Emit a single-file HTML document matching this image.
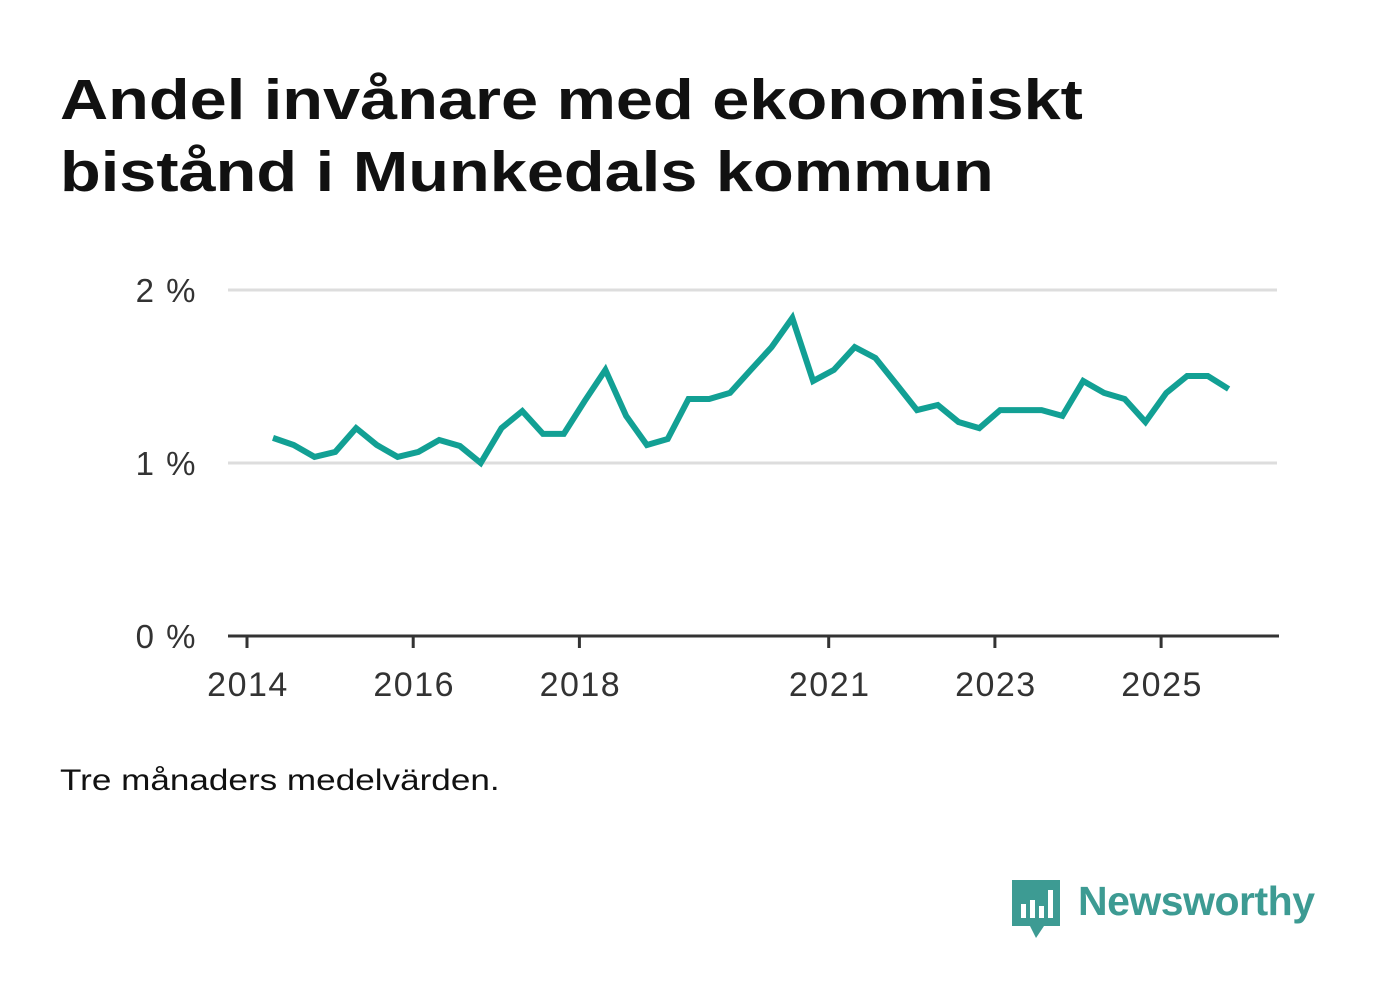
<!DOCTYPE html>
<html><head><meta charset="utf-8">
<style>
body{margin:0;background:#fff;width:1382px;height:999px;overflow:hidden;font-family:"Liberation Sans",sans-serif;}
h1{position:absolute;left:60px;top:64px;margin:0;font-size:57px;line-height:72px;font-weight:bold;color:#111;transform:scaleX(1.17);transform-origin:0 0;white-space:nowrap}
.note{position:absolute;left:60px;top:764px;font-size:30px;color:#111;transform:scaleX(1.17);transform-origin:0 0;white-space:nowrap}
</style></head><body>
<h1>Andel invånare med ekonomiskt<br>bistånd i Munkedals kommun</h1>
<svg id="chart" width="1382" height="999" style="position:absolute;left:0;top:0"></svg>
<div class="note">Tre månaders medelvärden.</div>
<div style="position:absolute;left:1012px;top:878px;height:60px">
<svg width="50" height="62" style="position:absolute;left:0;top:2px"><path d="M0 0H48V46H32L24 58L18 46H0Z" fill="#3d9b93"/><rect x="9" y="24" width="5" height="14" fill="#fff"/><rect x="18" y="20" width="5" height="18" fill="#fff"/><rect x="27" y="26" width="5" height="12" fill="#fff"/><rect x="36" y="10" width="5" height="28" fill="#fff"/></svg>
<span style="position:absolute;left:66px;top:0;font-size:41px;font-weight:bold;color:#3d9b93;white-space:nowrap;letter-spacing:-0.5px">Newsworthy</span></div>
<script>
const yTicks=[0,1,2];
const yTickLabels=["0 %","1 %","2 %"];
const xTicks=[2014,2016,2018,2021,2023,2025];
const startYear=2014.3125;
const values=[1.145,1.104,1.035,1.064,1.202,1.104,1.035,1.064,1.133,1.098,1.0,1.202,1.30,1.168,1.168,1.358,1.538,1.272,1.104,1.139,1.37,1.37,1.405,1.538,1.67,1.838,1.474,1.538,1.67,1.607,1.457,1.306,1.335,1.237,1.202,1.306,1.306,1.306,1.272,1.474,1.405,1.37,1.237,1.405,1.503,1.503,1.428];
const svg=document.getElementById('chart');
const NS='http://www.w3.org/2000/svg';
const x=t=>247+(t-2014)*83.1;
const y=v=>636-v*173;
function mk(tag,attrs){const e=document.createElementNS(NS,tag);for(const k in attrs)e.setAttribute(k,attrs[k]);svg.appendChild(e);return e;}
yTicks.forEach((v,i)=>{
  if(v>0){const g=mk('line',{x1:228,x2:1277,y1:y(v),y2:y(v),stroke:'#ddd','stroke-width':3});
  
  }
  const t=mk('text',{x:197,y:y(v)+12,'text-anchor':'end','font-size':33,'letter-spacing':1.5,fill:'#333','font-family':'Liberation Sans, sans-serif'});
  t.textContent=yTickLabels[i];
  
  
});
const ax=mk('line',{x1:228,x2:1279,y1:636,y2:636,stroke:'#333','stroke-width':3});


xTicks.forEach(t=>{
  const tk=mk('line',{x1:x(t),x2:x(t),y1:636,y2:648,stroke:'#333','stroke-width':3});
  
  
  const l=mk('text',{x:x(t)+1,y:696,'text-anchor':'middle','font-size':34,'letter-spacing':1.5,fill:'#333','font-family':'Liberation Sans, sans-serif'});
  l.textContent=t;
  
  
});
const pts=values.map((v,i)=>x(startYear+i*0.25).toFixed(1)+','+y(v).toFixed(1)).join(' ');
const line=mk('polyline',{points:pts,fill:'none',stroke:'#12a094','stroke-width':6,'stroke-linejoin':'miter'});


</script>
</body></html>
